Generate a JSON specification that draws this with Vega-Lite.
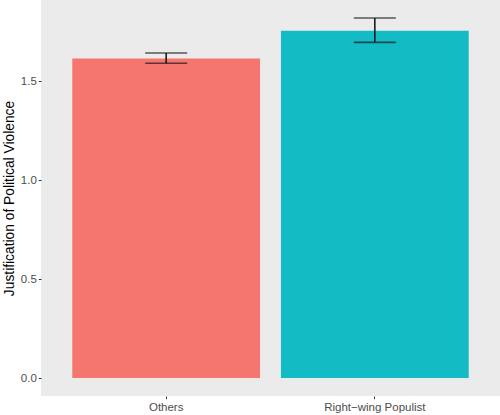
{
  "$schema": "https://vega.github.io/schema/vega-lite/v6.json",
  "width": 459,
  "height": 396,
  "autosize": "none",
  "padding": {"left": 41, "top": 0, "right": 0, "bottom": 19},
  "background": "white",
  "config": {
    "view": {"fill": "#EBEBEB", "stroke": null},
    "font": "Liberation Sans",
    "axis": {
      "grid": false,
      "domain": false,
      "tickColor": "#333333",
      "tickSize": 2.7,
      "tickWidth": 1,
      "labelColor": "#4D4D4D",
      "labelFontSize": 11.5,
      "labelFont": "Liberation Sans",
      "titleFont": "Liberation Sans",
      "titleFontSize": 13.8,
      "titleFontWeight": "normal",
      "titleColor": "black"
    }
  },
  "data": {
    "values": [
      {"group": "Others", "mean": 1.615, "lo": 1.591, "hi": 1.643},
      {"group": "Right−wing Populist", "mean": 1.756, "lo": 1.697, "hi": 1.820}
    ]
  },
  "encoding": {
    "x": {
      "field": "group",
      "type": "nominal",
      "sort": null,
      "scale": {"paddingInner": 0.1, "paddingOuter": 0.15},
      "axis": {"title": null, "labelAngle": 0, "labelPadding": 2.5}
    }
  },
  "layer": [
    {
      "mark": {"type": "bar", "stroke": null},
      "encoding": {
        "y": {
          "field": "mean",
          "type": "quantitative",
          "scale": {"domain": [-0.091, 1.911], "nice": false, "zero": false},
          "axis": {
            "title": "Justification of Political Violence",
            "values": [0, 0.5, 1, 1.5],
            "format": ".1f",
            "labelPadding": 2,
            "titlePadding": 4
          }
        },
        "y2": {"datum": 0},
        "color": {
          "field": "group",
          "type": "nominal",
          "scale": {"range": ["#F5756F", "#13BCC4"]},
          "legend": null
        }
      }
    },
    {
      "mark": {"type": "rule", "color": "#1a1a1a", "strokeWidth": 1.6},
      "encoding": {
        "y": {"field": "lo", "type": "quantitative"},
        "y2": {"field": "hi"}
      }
    },
    {
      "mark": {"type": "tick", "color": "#1a1a1a", "thickness": 1.6, "size": 42},
      "encoding": {
        "y": {"field": "lo", "type": "quantitative"}
      }
    },
    {
      "mark": {"type": "tick", "color": "#1a1a1a", "thickness": 1.6, "size": 42},
      "encoding": {
        "y": {"field": "hi", "type": "quantitative"}
      }
    }
  ]
}
